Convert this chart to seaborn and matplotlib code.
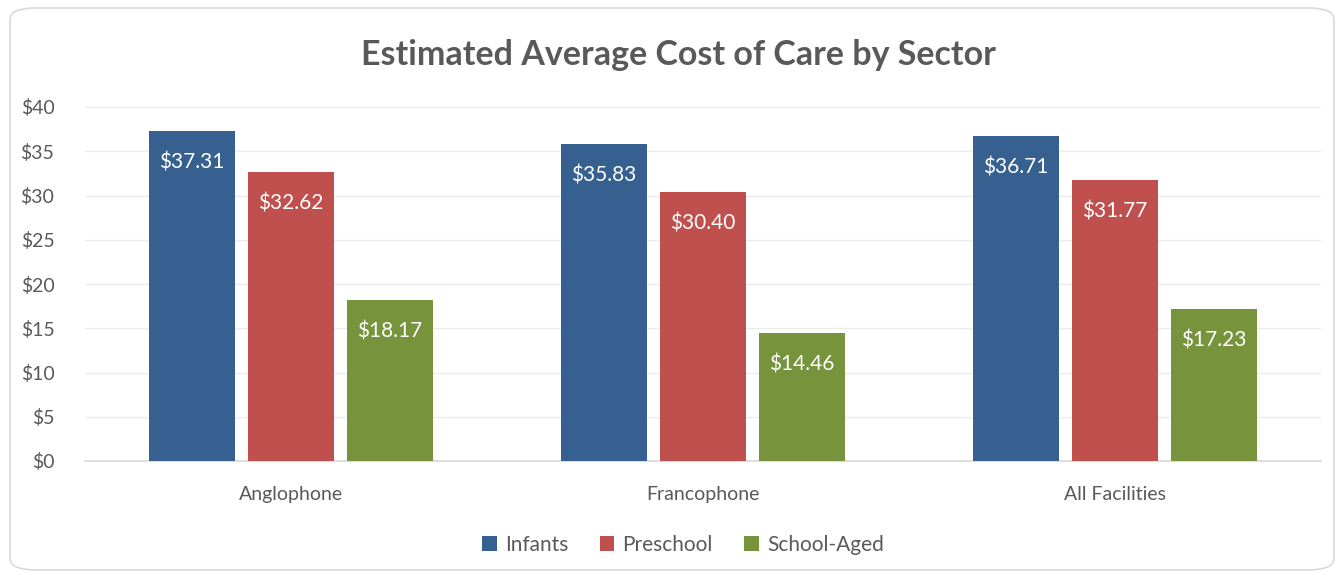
import pandas as pd
import matplotlib.pyplot as plt
import seaborn as sns
from matplotlib.patches import FancyBboxPatch, Patch

# Chart data
sectors = ["Anglophone", "Francophone", "All Facilities"]
groups = ["Infants", "Preschool", "School-Aged"]
infants = [37.31, 35.83, 36.71]
preschool = [32.62, 30.40, 31.77]
school_aged = [18.17, 14.46, 17.23]
colors = ["#36608F", "#C0504D", "#77933C"]
yticks = [0, 5, 10, 15, 20, 25, 30, 35, 40]

sns.set_theme(style="white")
plt.rcParams['font.family'] = ['Lato', 'DejaVu Sans']

df = pd.DataFrame({
    "sector": sectors * 3,
    "group": [g for g in groups for _ in sectors],
    "cost": infants + preschool + school_aged,
})

W, H = 1339, 576
fig = plt.figure(figsize=(W / 100, H / 100), dpi=100)

# rounded chart border
border = FancyBboxPatch((10 / W, 6 / H), 1324 / W, 562 / H,
                        boxstyle="round,pad=0,rounding_size=0.02",
                        transform=fig.transFigure, facecolor="none",
                        edgecolor="#D9D9D9", linewidth=1.2, zorder=-1)
fig.patches.append(border)

ax = fig.add_axes([85 / W, (H - 461) / H, (1321 - 85) / W, (461 - 107) / H])
ax.set_facecolor("none")

sns.barplot(data=df, x="sector", y="cost", hue="group", palette=colors,
            saturation=1, width=0.72, gap=0.13, linewidth=0,
            ax=ax, legend=False, zorder=3)

for container in ax.containers:
    labels = [f"${v:.2f}" for v in container.datavalues]
    ax.bar_label(container, labels=labels, label_type="edge", padding=-30,
                 color="white", fontsize=15)

ax.set_ylim(0, 40)
ax.set_xlim(-0.5, 2.5)
ax.set_yticks(yticks)
ax.set_yticklabels([f"${t}" for t in yticks], fontsize=14, color="#595959")
ax.tick_params(axis="y", length=0, pad=22)
ax.tick_params(axis="x", length=0, pad=18, labelsize=14, labelcolor="#595959")
ax.yaxis.grid(True, color="#EBEBEB", linewidth=1, zorder=0)
ax.set_axisbelow(True)
for s in ["top", "right", "left"]:
    ax.spines[s].set_visible(False)
ax.spines["bottom"].set_color("#D9D9D9")
ax.spines["bottom"].set_linewidth(1.2)
ax.set_xlabel("")
ax.set_ylabel("")

fig.text(678 / W, 1 - 55 / H, "Estimated Average Cost of Care by Sector",
         ha="center", va="center", fontsize=24.5, fontweight="bold", color="#595959")

handles = [Patch(facecolor=c, edgecolor="none") for c in colors]
fig.legend(handles, groups, loc="center", bbox_to_anchor=(683 / W, 1 - 545 / H),
           ncol=3, frameon=False, fontsize=15, handlelength=0.7, handleheight=0.7,
           handletextpad=0.4, columnspacing=1.5, labelcolor="#595959")

fig.savefig("out.png", dpi=100)
